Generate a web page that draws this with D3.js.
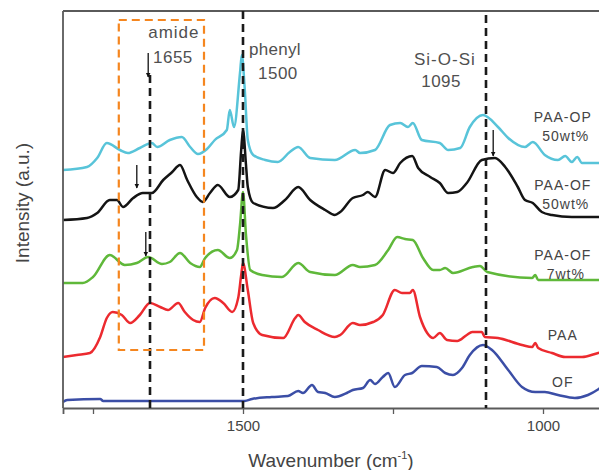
<!DOCTYPE html>
<html><head><meta charset="utf-8">
<script src="https://cdn.jsdelivr.net/npm/d3@7"></script>
<style>
body{margin:0;background:#fff;}
svg{display:block;font-family:"Liberation Sans",Arial,Helvetica,sans-serif;}
</style>
</head><body>
<svg id="chart" width="599" height="470"></svg>
<script>
// ---- data: [wavenumber (cm-1), intensity (a.u., offset stacked)] ----
const paaOP50 = [[1800,238],[1760,241],[1743,250],[1727,265],[1705,258],[1692,255],[1672,260],[1652,265],[1643,261],[1622,268],[1602,271],[1588,261],[1575,254],[1560,259],[1547,268],[1527,278],[1522,298],[1515,281],[1505,335],[1502,353],[1497,318],[1492,268],[1483,253],[1463,248],[1442,246],[1422,256],[1408,261],[1388,250],[1347,248],[1313,258],[1305,255],[1280,258],[1255,283],[1238,285],[1225,281],[1217,285],[1202,268],[1172,265],[1158,258],[1138,260],[1122,281],[1100,293],[1075,281],[1058,270],[1030,261],[1017,266],[997,253],[975,248],[963,252],[952,246],[943,251],[935,245],[907,245],[900,245]];
const paaOF50 = [[1800,188],[1760,190],[1743,195],[1722,208],[1710,208],[1700,201],[1683,210],[1667,215],[1652,215],[1633,228],[1618,236],[1605,243],[1593,228],[1577,211],[1567,206],[1555,215],[1542,223],[1522,211],[1508,218],[1503,258],[1500,278],[1495,243],[1492,221],[1483,205],[1450,200],[1430,208],[1408,221],[1388,208],[1363,198],[1347,193],[1338,196],[1317,210],[1300,213],[1292,216],[1280,211],[1263,238],[1250,235],[1238,245],[1218,252],[1208,240],[1188,231],[1172,225],[1158,215],[1143,216],[1127,225],[1102,248],[1080,250],[1063,241],[1042,221],[1030,208],[1017,205],[1002,196],[985,193],[952,191],[907,191],[900,191]];
const paaOF7 = [[1800,125],[1767,125],[1750,131],[1722,153],[1697,143],[1677,145],[1658,151],[1635,144],[1622,146],[1605,155],[1588,145],[1572,141],[1563,150],[1542,158],[1522,150],[1510,158],[1505,183],[1500,216],[1495,173],[1488,138],[1468,133],[1435,131],[1408,145],[1388,136],[1347,133],[1317,143],[1305,141],[1280,143],[1258,158],[1243,171],[1230,169],[1217,168],[1200,150],[1183,138],[1172,138],[1163,140],[1150,135],[1117,141],[1105,142],[1093,136],[1018,130],[1013,133],[1008,128],[907,128],[900,128]];
const paa = [[1800,51],[1777,53],[1755,55],[1738,71],[1727,90],[1717,96],[1702,93],[1688,85],[1672,93],[1655,105],[1638,101],[1625,98],[1608,105],[1597,96],[1583,88],[1572,86],[1563,100],[1547,110],[1533,105],[1518,96],[1508,110],[1503,133],[1500,145],[1492,118],[1483,85],[1468,73],[1433,70],[1413,90],[1408,93],[1397,86],[1375,78],[1347,71],[1338,73],[1317,85],[1305,83],[1283,86],[1267,93],[1247,118],[1235,115],[1222,115],[1217,118],[1205,91],[1193,75],[1183,70],[1172,75],[1160,68],[1143,67],[1127,73],[1118,76],[1102,76],[1097,71],[1075,70],[1035,63],[1018,61],[1013,65],[1008,60],[985,55],[963,51],[935,51],[908,55],[900,56]];
const of = [[1800,6],[1793,8],[1738,9],[1733,7],[1497,7],[1485,9],[1452,11],[1425,12],[1408,17],[1400,15],[1385,23],[1375,16],[1363,15],[1347,11],[1327,15],[1317,18],[1300,20],[1288,28],[1280,24],[1267,31],[1258,35],[1247,21],[1230,33],[1218,35],[1202,42],[1177,41],[1163,35],[1150,33],[1135,40],[1122,53],[1100,63],[1085,58],[1058,38],[1035,21],[1013,16],[997,16],[975,13],[947,10],[925,13],[907,19],[900,22]];

const seriesNames = ["PAA-OP|50wt%","PAA-OF|50wt%","PAA-OF|7wt%","PAA","OF"];
const seriesData = [paaOP50, paaOF50, paaOF7, paa, of];
const seriesColors = ["#58c4d9","#141414","#5fb83a","#ec2a2f","#3b4ea6"];
const seriesLabelPos = [[967,286],[967,218],[967,148],[967,68],[967,21]];

const xTickValues = [1750,1500,1250,1000];
const xTickLabels = ["","1500","","1000"];

const bandWn = [1655,1500,1095];
const bandName = ["amide","phenyl","Si-O-Si"];
const amideBox = [1707,1565];
const arrowsAt = [[1658,355,331],[1677,243,220],[1662,176,152],[1083,278,252]];

// ---- scales ----
const svg = d3.select("#chart");
const x = d3.scaleLinear().domain([1800,900]).range([63,603]);
const y = d3.scaleLinear().domain([0,397]).range([408,11]);

const line = d3.line().x(d=>x(d[0])).y(d=>y(d[1])).curve(d3.curveMonotoneX);

// spectra
svg.append("g").selectAll("path").data(seriesData).join("path")
  .attr("d", line)
  .attr("fill","none")
  .attr("stroke",(d,i)=>seriesColors[i])
  .attr("stroke-width",2.5)
  .attr("stroke-linejoin","round");

// frame
const frame = svg.append("g").attr("stroke","#5a5a5a").attr("stroke-width",1.8).attr("fill","none");
frame.append("line").attr("x1",x(1800)).attr("x2",x(1800)).attr("y1",y(397)).attr("y2",y(0));
frame.append("line").attr("x1",x(1800)).attr("x2",x(900)).attr("y1",y(397)).attr("y2",y(397));

// x axis
const xAxis = d3.axisBottom(x).tickValues(xTickValues).tickSize(6)
  .tickFormat((d,i)=>xTickLabels[i]);
const gx = svg.append("g").attr("transform",`translate(0,${y(0)})`).call(xAxis);
gx.select(".domain").attr("stroke","#5a5a5a").attr("stroke-width",1.8);
gx.selectAll(".tick line").attr("stroke","#5a5a5a").attr("stroke-width",1.3);
gx.selectAll(".tick text").attr("fill","#444").attr("font-size",15)
  .attr("font-family","Liberation Sans, Arial, sans-serif").attr("dy","0.95em");

// dashed band lines
const bandTop = [333,397,393];
svg.append("g").selectAll("line").data(bandWn).join("line")
  .attr("x1",d=>x(d)).attr("x2",d=>x(d))
  .attr("y1",(d,i)=>y(bandTop[i])).attr("y2",y(0))
  .attr("stroke","#1a1a1a").attr("stroke-width",2.6)
  .attr("stroke-dasharray","8,5");

// amide box
svg.append("rect")
  .attr("x",x(amideBox[0])).attr("y",y(388))
  .attr("width",x(amideBox[1])-x(amideBox[0])).attr("height",y(58)-y(388))
  .attr("fill","none").attr("stroke","#f5861f").attr("stroke-width",2.2)
  .attr("stroke-dasharray","8,5");

// arrows
svg.append("defs").append("marker").attr("id","ah")
  .attr("viewBox","0 0 10 10").attr("refX",9).attr("refY",5)
  .attr("markerWidth",5).attr("markerHeight",6).attr("markerUnits","userSpaceOnUse")
  .attr("orient","auto")
  .append("path").attr("d","M0,0L10,5L0,10Z").attr("fill","#111");
svg.append("g").selectAll("line").data(arrowsAt).join("line")
  .attr("x1",d=>x(d[0])).attr("x2",d=>x(d[0]))
  .attr("y1",d=>y(d[1])).attr("y2",d=>y(d[2]))
  .attr("stroke","#111").attr("stroke-width",1.3)
  .attr("marker-end","url(#ah)");

// band annotations
const ann = svg.append("g").attr("fill","#505050").attr("font-size",17).attr("letter-spacing",1);
ann.append("text").attr("x",x(1658)).attr("y",y(370)).text(bandName[0]);
ann.append("text").attr("x",x(1650)).attr("y",y(345)).attr("letter-spacing",0.5).text(String(bandWn[0]));
ann.append("text").attr("x",x(1490)).attr("y",y(353)).attr("letter-spacing",0.3).text(bandName[1]);
ann.append("text").attr("x",x(1475)).attr("y",y(329)).attr("letter-spacing",0.5).text(String(bandWn[1]));
ann.append("text").attr("x",x(1215)).attr("y",y(343)).text(bandName[2]);
ann.append("text").attr("x",x(1203)).attr("y",y(321)).attr("letter-spacing",0.5).text(String(bandWn[2]));

// series labels
const lab = svg.append("g").attr("fill","#444").attr("font-size",14).attr("letter-spacing",1).attr("text-anchor","middle");
seriesNames.forEach((n,i)=>{
  const parts = n.split("|");
  const t = lab.append("text").attr("x",x(seriesLabelPos[i][0])).attr("y",y(seriesLabelPos[i][1]));
  parts.forEach((p,j)=>{
    t.append("tspan").attr("x",x(seriesLabelPos[i][0]) + (j===0?0:3)).attr("dy", j===0?0:19).text(p);
  });
});

// axis titles
const xt = svg.append("text").attr("x",331).attr("y",467).attr("text-anchor","middle")
  .attr("fill","#444").attr("font-size",19);
xt.append("tspan").text("Wavenumber (cm");
xt.append("tspan").attr("font-size",11).attr("dy",-8).text("-1");
xt.append("tspan").attr("dy",8).text(")");
svg.append("text").attr("transform","translate(29,203) rotate(-90)")
  .attr("text-anchor","middle").attr("fill","#444").attr("font-size",19)
  .text("Intensity (a.u.)");
</script>
</body></html>
